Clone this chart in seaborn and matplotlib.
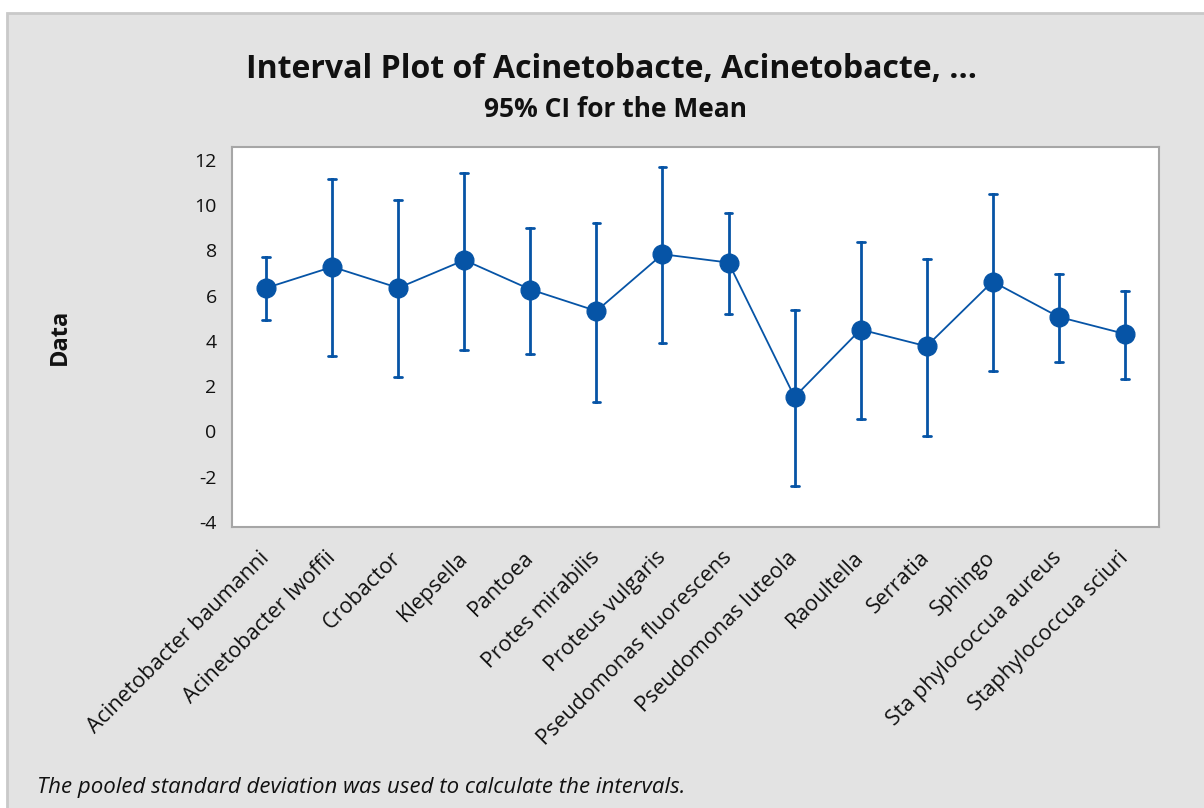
import pandas as pd
import seaborn as sns
import matplotlib.pyplot as plt
from matplotlib.patches import Rectangle

# values (mean and 95% CI bounds)
groups = ["Acinetobacter baumanni", "Acinetobacter lwoffii", "Crobactor", "Klepsella",
          "Pantoea", "Protes mirabilis", "Proteus vulgaris", "Pseudomonas fluorescens",
          "Pseudomonas luteola", "Raoultella", "Serratia", "Sphingo",
          "Sta phylococcua aureus", "Staphylococcua sciuri"]
means = [6.34, 7.27, 6.34, 7.57, 6.27, 5.32, 7.83, 7.46, 1.52, 4.50, 3.76, 6.62, 5.06, 4.31]
lower = [4.91, 3.33, 2.40, 3.61, 3.44, 1.30, 3.89, 5.19, -2.42, 0.55, -0.19, 2.68, 3.05, 2.31]
upper = [7.70, 11.14, 10.21, 11.42, 9.00, 9.19, 11.70, 9.66, 5.37, 8.35, 7.61, 10.50, 6.95, 6.21]
yticks = [-4, -2, 0, 2, 4, 6, 8, 10, 12]

title = "Interval Plot of Acinetobacte, Acinetobacte, ..."
subtitle = "95% CI for the Mean"
footnote = "The pooled standard deviation was used to calculate the intervals."

# long form: median of (lower, mean, upper) is the mean, min/max are the bounds
rows = []
for g, lo, m, hi in zip(groups, lower, means, upper):
    for v in (lo, m, hi):
        rows.append({"group": g, "value": v})
df = pd.DataFrame(rows)

blue = "#0654a6"
sns.set_style("white")
plt.rcParams["font.family"] = ["Open Sans", "DejaVu Sans"]
plt.rcParams["axes.unicode_minus"] = False

fig = plt.figure(figsize=(12.04, 8.08), dpi=100)
fig.patch.set_facecolor("white")
# grey outer panel
fig.patches.append(Rectangle((7 / 1204, -0.05), 1.1, 1 - 13 / 808 + 0.05,
                             transform=fig.transFigure, facecolor="#e3e3e3",
                             edgecolor="#c9c9c9", linewidth=2, zorder=-10))

ax = fig.add_axes([232 / 1204, 1 - 527 / 808, (1159 - 232) / 1204, (527 - 147) / 808])
sns.pointplot(data=df, x="group", y="value", order=groups, estimator="median",
              errorbar=("pi", 100), color=blue, capsize=0.12,
              markersize=13.5, linewidth=1.3, err_kws={"linewidth": 2.0}, ax=ax)

ax.set_facecolor("white")
ax.set_xlim(-0.52, len(groups) - 0.48)
ax.set_ylim(-4.23, 12.57)
ax.set_yticks(yticks)
ax.set_xlabel("")
ax.set_ylabel("")
for s in ax.spines.values():
    s.set_color("#a6a6a6")
    s.set_linewidth(1.5)
ax.tick_params(axis="both", direction="out", length=7, width=1.3, color="#a6a6a6",
               labelcolor="#111111")
ax.tick_params(axis="y", pad=4, labelsize=14)
ax.tick_params(axis="x", pad=13, labelsize=15.5)
ax.set_xticks(range(len(groups)))
ax.set_xticklabels(groups, rotation=45, ha="right", va="center", rotation_mode="anchor")

fig.text(611 / 1204, 1 - 78 / 808, title, ha="center", va="baseline",
         fontsize=23, fontweight="bold", color="#111111")
fig.text(616 / 1204, 1 - 117 / 808, subtitle, ha="center", va="baseline",
         fontsize=19, fontweight="bold", color="#111111")
fig.text(60 / 1204, 1 - 337 / 808, "Data", ha="center", va="center", rotation=90,
         fontsize=17, fontweight="bold", color="#111111")
fig.text(37 / 1204, 1 - 793 / 808, footnote, ha="left", va="baseline",
         fontsize=16, style="italic", color="#111111")

fig.savefig("out.png", dpi=100)
